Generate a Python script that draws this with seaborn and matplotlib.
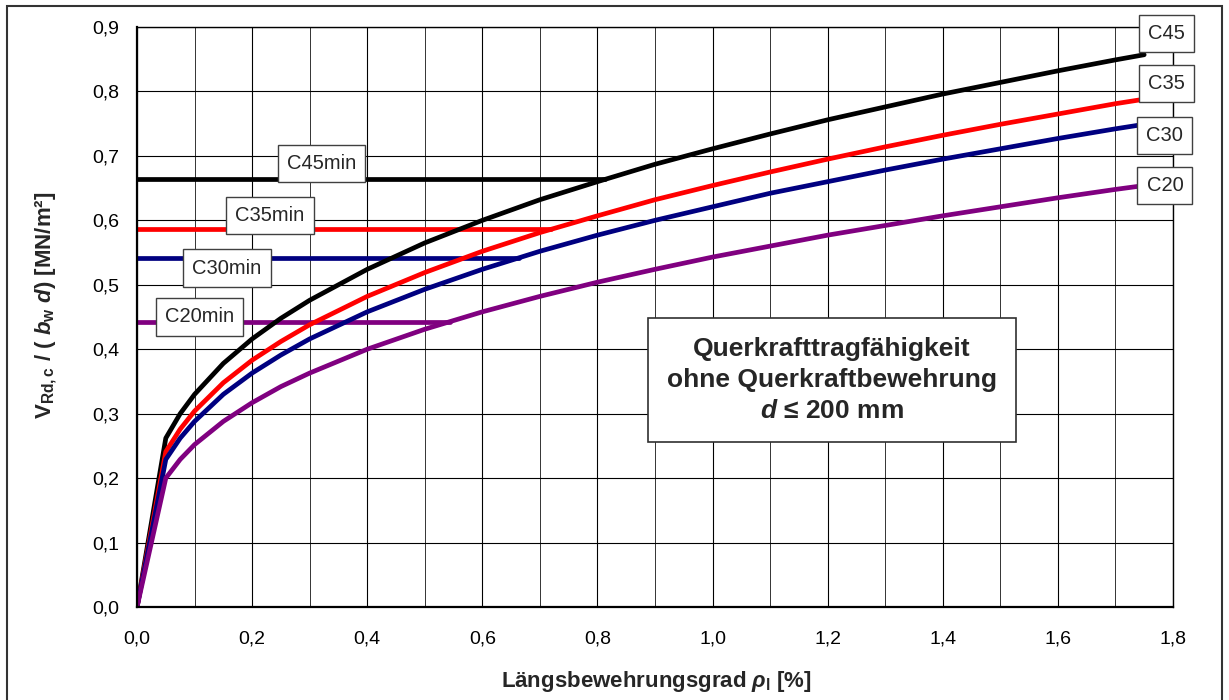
import numpy as np
import pandas as pd
import matplotlib
matplotlib.use("Agg")
import matplotlib.pyplot as plt
import seaborn as sns
from matplotlib.ticker import FuncFormatter, MultipleLocator
from matplotlib.patches import Rectangle

# ---------------- data ----------------
rho = [0.0, 0.05, 0.075, 0.1, 0.15, 0.2, 0.25, 0.3, 0.4, 0.5, 0.6, 0.7, 0.8,
       0.9, 1.0, 1.1, 1.2, 1.3, 1.4, 1.5, 1.6, 1.7, 1.75]
v_c45 = [0.0, 0.262, 0.300, 0.330, 0.378, 0.416, 0.448, 0.476, 0.524, 0.565, 0.600,
         0.632, 0.660, 0.687, 0.711, 0.734, 0.756, 0.776, 0.796, 0.814, 0.832, 0.849, 0.857]
v_c35 = [0.0, 0.241, 0.276, 0.304, 0.348, 0.383, 0.412, 0.438, 0.482, 0.519, 0.552,
         0.581, 0.607, 0.632, 0.654, 0.675, 0.695, 0.714, 0.732, 0.749, 0.765, 0.781, 0.788]
v_c30 = [0.0, 0.229, 0.262, 0.288, 0.330, 0.363, 0.391, 0.416, 0.458, 0.493, 0.524,
         0.552, 0.577, 0.600, 0.621, 0.642, 0.660, 0.678, 0.695, 0.711, 0.727, 0.742, 0.749]
v_c20 = [0.0, 0.200, 0.229, 0.252, 0.288, 0.317, 0.342, 0.363, 0.400, 0.431, 0.458,
         0.482, 0.504, 0.524, 0.543, 0.560, 0.577, 0.592, 0.607, 0.621, 0.635, 0.648, 0.654]

classes = ["C45", "C35", "C30", "C20"]
min_labels = ["C45min", "C35min", "C30min", "C20min"]
v_min = [0.664, 0.586, 0.542, 0.443]
rho_min_end = [0.813, 0.719, 0.663, 0.543]

x_ticks = [0.0, 0.2, 0.4, 0.6, 0.8, 1.0, 1.2, 1.4, 1.6, 1.8]
y_ticks = [0.0, 0.1, 0.2, 0.3, 0.4, 0.5, 0.6, 0.7, 0.8, 0.9]

# ---------------- style ----------------
colors = {"C45": "#000000", "C35": "#FF0000", "C30": "#000080", "C20": "#800080"}

sns.set_theme(style="white")
plt.rcParams["font.family"] = ["Liberation Sans", "DejaVu Sans"]
plt.rcParams["mathtext.fontset"] = "custom"
plt.rcParams["mathtext.rm"] = "Liberation Sans:bold"
plt.rcParams["mathtext.bf"] = "Liberation Sans:bold"
plt.rcParams["mathtext.it"] = "Liberation Sans:italic:bold"

fig = plt.figure(figsize=(12.29, 7), dpi=100)
fig.patch.set_facecolor("white")
ax = fig.add_axes([0.1115, 0.1329, 0.8429, 0.8285])

# min lines
df_min = pd.concat([
    pd.DataFrame({"rho": [0.0, e], "v": [m, m], "klasse": k})
    for k, m, e in zip(classes, v_min, rho_min_end)
])
sns.lineplot(data=df_min, x="rho", y="v", hue="klasse", hue_order=classes,
             palette=colors, linewidth=3.4, legend=False, ax=ax, estimator=None)

# curves
series = {"C45": v_c45, "C35": v_c35, "C30": v_c30, "C20": v_c20}
df = pd.concat([pd.DataFrame({"rho": rho, "v": series[k], "klasse": k}) for k in classes])
sns.lineplot(data=df, x="rho", y="v", hue="klasse", hue_order=classes,
             palette=colors, linewidth=3.4, legend=False, ax=ax, estimator=None)

ax.set_xlim(0, 1.8)
ax.set_ylim(0, 0.9)
ax.set_xticks(x_ticks)
ax.set_yticks(y_ticks)
ax.xaxis.set_minor_locator(MultipleLocator(0.1))
fmt = FuncFormatter(lambda v, p: f"{v:.1f}".replace(".", ","))
ax.xaxis.set_major_formatter(fmt)
ax.yaxis.set_major_formatter(fmt)
ax.grid(True, which="major", color="#000000", linewidth=0.8)
ax.grid(True, which="minor", axis="x", color="#333333", linewidth=0.7)
ax.set_axisbelow(True)
ax.tick_params(axis="both", which="major", direction="out", length=6, width=1,
               color="black", labelsize=14, labelcolor="black", pad=7)
ax.tick_params(axis="x", which="minor", length=0)
ax.tick_params(axis="x", which="major", pad=11)
ax.set_xlabel("")
ax.set_ylabel("")
for s in ax.spines.values():
    s.set_color("black")
    s.set_linewidth(1.0)
ax.spines["left"].set_linewidth(1.6)
ax.spines["bottom"].set_linewidth(1.6)

# axis labels
fig.text(656 / 1229, 1 - 681 / 700, r"Längsbewehrungsgrad $\rho_{\mathrm{l}}$ [%]",
         ha="center", va="center", fontsize=16, fontweight="bold")
fig.text(46 / 1229, 1 - 305 / 700,
         r"$\mathrm{V}_{\mathrm{Rd,c}}$ / ( $b_{\mathrm{w}}$ $d$) [MN/m²]",
         ha="center", va="center", rotation=90, fontsize=16, fontweight="bold")

box = dict(boxstyle="square,pad=0.45", facecolor="white", edgecolor="#404040", linewidth=1.0)

# min labels
min_pos = [(0.321, 0.688), (0.231, 0.607), (0.156, 0.526), (0.109, 0.450)]
for lab, (px, py) in zip(min_labels, min_pos):
    ax.text(px, py, lab, ha="center", va="center", fontsize=14.5, bbox=box, zorder=10)

# end labels
end_pos = [(1.789, 0.890), (1.789, 0.812), (1.786, 0.731), (1.786, 0.654)]
for lab, (px, py) in zip(classes, end_pos):
    ax.text(px, py, lab, ha="center", va="center", fontsize=14.5, bbox=box,
            zorder=10, clip_on=False)

# info box
ax.text(1.207, 0.352,
        "Querkrafttragfähigkeit\nohne Querkraftbewehrung\n$d$ ≤ 200 mm",
        ha="center", va="center", fontsize=19, fontweight="bold", linespacing=1.38,
        bbox=dict(boxstyle="square,pad=0.72", facecolor="white", edgecolor="#303030",
                  linewidth=1.2), zorder=10)

# outer border
fig.patches.append(Rectangle((7 / 1229, -0.01), (1222 - 7) / 1229, 1.01 - 6 / 700,
                             transform=fig.transFigure, fill=False,
                             edgecolor="#333333", linewidth=1.5))

fig.savefig("out.png", dpi=100)
